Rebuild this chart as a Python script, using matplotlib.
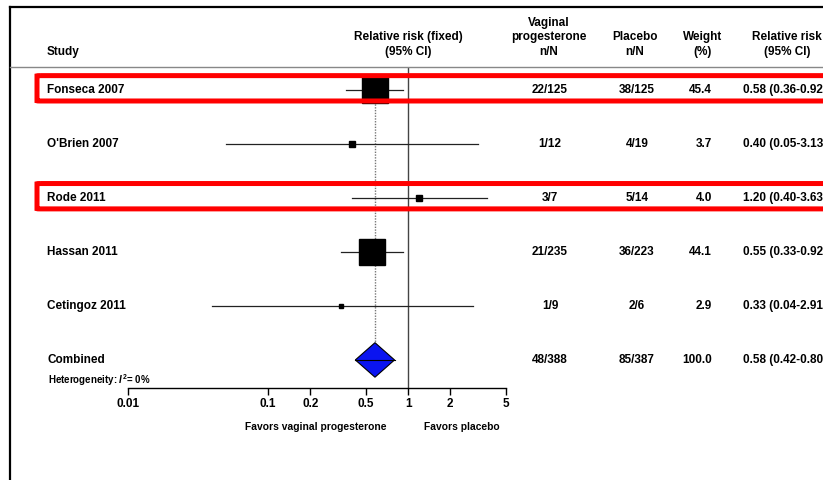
import matplotlib
matplotlib.use("Agg")
import matplotlib.pyplot as plt
from matplotlib import transforms
from matplotlib.patches import Polygon, FancyBboxPatch
from matplotlib.lines import Line2D

plt.rcParams['font.family'] = ['Liberation Sans', 'DejaVu Sans']
plt.rcParams['font.weight'] = 'bold'
plt.rcParams['mathtext.fontset'] = 'custom'
plt.rcParams['mathtext.it'] = 'Liberation Sans:italic:bold'
plt.rcParams['mathtext.rm'] = 'Liberation Sans:bold'

studies = ["Fonseca 2007", "O'Brien 2007", "Rode 2011", "Hassan 2011", "Cetingoz 2011"]
rr = [0.58, 0.40, 1.20, 0.55, 0.33]
ci_lo = [0.36, 0.05, 0.40, 0.33, 0.04]
ci_hi = [0.92, 3.13, 3.63, 0.92, 2.91]
weight = [45.4, 3.7, 4.0, 44.1, 2.9]
vag_nN = ["22/125", "1/12", "3/7", "21/235", "1/9"]
plac_nN = ["38/125", "4/19", "5/14", "36/223", "2/6"]

comb_rr, comb_lo, comb_hi = 0.58, 0.42, 0.80
comb_vag, comb_plac, comb_weight = "48/388", "85/387", 100.0

highlight = ["Fonseca 2007", "Rode 2011"]
ticks = [0.01, 0.1, 0.2, 0.5, 1, 2, 5]
tick_labels = ["0.01", "0.1", "0.2", "0.5", "1", "2", "5"]

W, H = 823, 480
fig = plt.figure(figsize=(W / 100, H / 100), dpi=100)


def fx(px):
    return px / W


def fy(py):
    return 1 - py / H


ax = fig.add_axes([fx(128), fy(388), fx(506) - fx(128), (388 - 67) / H])
ax.set_xscale('log')
ax.set_xlim(0.01, 5)
ax.set_ylim(5.52, -0.43)
for s in ['top', 'left', 'right']:
    ax.spines[s].set_visible(False)
ax.spines['bottom'].set_linewidth(1.0)
ax.set_yticks([])
ax.set_xticks(ticks)
ax.set_xticklabels(tick_labels, fontsize=8.5, fontweight='bold')
ax.minorticks_off()
ax.tick_params(axis='x', direction='out', length=5, width=1, pad=2)

rows = list(range(len(studies)))
comb_row = len(studies)

# line of no effect and pooled estimate
ax.axvline(1, color='#444444', lw=1.0, zorder=1)
ax.plot([comb_rr, comb_rr], [rows[0], comb_row - 0.3], color='#777777',
        lw=1.0, ls=(0, (1, 1)), zorder=1)

# study estimates
for r, est, lo, hi, w in zip(rows, rr, ci_lo, ci_hi, weight):
    ax.plot([lo, hi], [r, r], color='#222222', lw=0.9, zorder=2)
    side = 19.4 * (w / 45.4) ** 0.65
    ax.plot([est], [r], marker='s', ms=side, color='black', zorder=3,
            clip_on=False)

# pooled diamond
h = 0.32
diamond = Polygon([(comb_lo, comb_row), (comb_rr, comb_row - h),
                   (comb_hi, comb_row), (comb_rr, comb_row + h)],
                  closed=True, facecolor='#0a14f0', edgecolor='black',
                  lw=0.8, zorder=3)
ax.add_patch(diamond)
ax.plot([comb_lo, comb_hi], [comb_row, comb_row], color='black', lw=0.8,
        zorder=4)

# table columns
tr = transforms.blended_transform_factory(fig.transFigure, ax.transData)
fs = 8.5
for r, name, v, p, w, est, lo, hi in zip(rows, studies, vag_nN, plac_nN,
                                         weight, rr, ci_lo, ci_hi):
    ax.text(fx(47), r, name, transform=tr, ha='left', va='center',
            fontsize=fs, clip_on=False)
    ax.text(fx(550), r, v, transform=tr, ha='center', va='center',
            fontsize=fs, clip_on=False)
    ax.text(fx(637), r, p, transform=tr, ha='center', va='center',
            fontsize=fs, clip_on=False)
    ax.text(fx(712), r, f"{w:.1f}", transform=tr, ha='right', va='center',
            fontsize=fs, clip_on=False)
    ax.text(fx(743), r, f"{est:.2f} ({lo:.2f}-{hi:.2f})", transform=tr,
            ha='left', va='center', fontsize=fs, clip_on=False)

ax.text(fx(47), comb_row, "Combined", transform=tr, ha='left', va='center',
        fontsize=fs, clip_on=False)
ax.text(fx(550), comb_row, comb_vag, transform=tr, ha='center', va='center',
        fontsize=fs, clip_on=False)
ax.text(fx(637), comb_row, comb_plac, transform=tr, ha='center', va='center',
        fontsize=fs, clip_on=False)
ax.text(fx(712), comb_row, f"{comb_weight:.1f}", transform=tr, ha='right',
        va='center', fontsize=fs, clip_on=False)
ax.text(fx(743), comb_row, f"{comb_rr:.2f} ({comb_lo:.2f}-{comb_hi:.2f})",
        transform=tr, ha='left', va='center', fontsize=fs, clip_on=False)
ax.text(fx(48), comb_row + 0.38, r"Heterogeneity: $\mathit{I}^{2}$= 0%",
        transform=tr, ha='left', va='center', fontsize=7, clip_on=False)

# highlight boxes
for r, name in enumerate(studies):
    if name in highlight:
        box = FancyBboxPatch((fx(37), r - 0.27), 1.2, 0.47,
                             boxstyle="round,pad=0,rounding_size=0.004",
                             transform=tr, facecolor='none',
                             edgecolor='#ff0000', lw=3.6, zorder=10,
                             clip_on=False, mutation_aspect=1)
        ax.add_patch(box)

# headers
hdr = dict(fontsize=fs, ha='center', va='bottom', linespacing=1.3)
fig.text(fx(47), fy(58), "Study", fontsize=fs, ha='left', va='bottom')
fig.text(fx(408), fy(58), "Relative risk (fixed)\n(95% CI)", **hdr)
fig.text(fx(549), fy(58), "Vaginal\nprogesterone\nn/N", **hdr)
fig.text(fx(635), fy(58), "Placebo\nn/N", **hdr)
fig.text(fx(703), fy(58), "Weight\n(%)", **hdr)
fig.text(fx(787), fy(58), "Relative risk\n(95% CI)", **hdr)

fig.text(fx(316), fy(427), "Favors vaginal progesterone", fontsize=7.4,
         ha='center', va='center')
fig.text(fx(462), fy(427), "Favors placebo", fontsize=7.4, ha='center',
         va='center')

# outer frame and header rule
fig.add_artist(Line2D([fx(10), fx(10)], [fy(7), 0], color='black', lw=1.6))
fig.add_artist(Line2D([fx(10), 1], [fy(7), fy(7)], color='black', lw=1.6))
fig.add_artist(Line2D([fx(10), 1], [fy(67), fy(67)], color='#888888', lw=1.0))

fig.savefig("out.png", dpi=100)
